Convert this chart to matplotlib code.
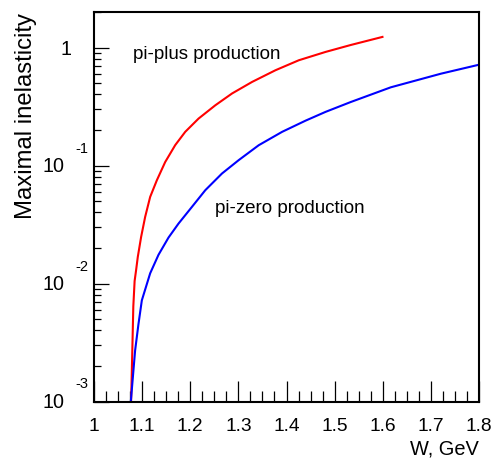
import matplotlib
matplotlib.use('Agg')
import matplotlib.pyplot as plt
from matplotlib.ticker import MultipleLocator, LogLocator, NullFormatter, FixedFormatter
import numpy as np

plt.rcParams['font.family'] = ['Liberation Sans', 'DejaVu Sans']

# pi-plus production (red)
w_plus = [1.0771, 1.0796, 1.0817, 1.0844, 1.0875, 1.0910, 1.0979, 1.1063, 1.1167,
          1.1306, 1.1479, 1.1688, 1.1896, 1.2173, 1.2521, 1.2869, 1.3285, 1.3771,
          1.4256, 1.4813, 1.5333, 1.5994]
inel_plus = [0.001, 0.0027, 0.0064, 0.0105, 0.0130, 0.0168, 0.0248, 0.0367, 0.0542,
             0.075, 0.107, 0.149, 0.193, 0.250, 0.324, 0.408, 0.511, 0.642,
             0.780, 0.918, 1.05, 1.23]

# pi-zero production (blue)
w_zero = [1.0765, 1.0854, 1.0923, 1.0994, 1.1167, 1.1340, 1.1548, 1.1756, 1.2035,
          1.2313, 1.2660, 1.3006, 1.3423, 1.3910, 1.4396, 1.4813, 1.5333, 1.6167,
          1.7208, 1.80]
inel_zero = [0.001, 0.0027, 0.0045, 0.0072, 0.0122, 0.0175, 0.0245, 0.0322, 0.0446,
             0.0618, 0.0856, 0.111, 0.1486, 0.193, 0.240, 0.285, 0.345, 0.46,
             0.60, 0.715]

xticks = [1.0, 1.1, 1.2, 1.3, 1.4, 1.5, 1.6, 1.7, 1.8]
xtick_labels = ['1', '1.1', '1.2', '1.3', '1.4', '1.5', '1.6', '1.7', '1.8']
ydecades = [1e-3, 1e-2, 1e-1, 1]
ydecade_exp = ['-3', '-2', '-1', '']

fig = plt.figure(figsize=(4.95, 4.59), dpi=100)
ax = fig.add_axes([94 / 495, 1 - 401.5 / 459, 385 / 495, 389.5 / 459])

ax.plot(w_plus, inel_plus, color='#ff0000', lw=1.5)
ax.plot(w_zero, inel_zero, color='#0000ff', lw=1.5)

ax.set_yscale('log')
ax.set_xlim(1.0, 1.8)
ax.set_ylim(1e-3, 2.0)

for s in ax.spines.values():
    s.set_linewidth(1.5)

ax.set_xticks(xticks)
ax.xaxis.set_minor_locator(MultipleLocator(0.025))
ax.xaxis.set_major_formatter(FixedFormatter(xtick_labels))
ax.tick_params(axis='x', which='major', direction='in', length=15, width=0.9,
               labelsize=13.8, pad=12, top=False)
ax.tick_params(axis='x', which='minor', direction='in', length=8, width=0.9, top=False)

ax.yaxis.set_major_locator(LogLocator(base=10, numticks=10))
ax.yaxis.set_minor_locator(LogLocator(base=10, subs=np.arange(2, 10), numticks=20))
ax.yaxis.set_major_formatter(NullFormatter())
ax.yaxis.set_minor_formatter(NullFormatter())
ax.tick_params(axis='y', which='major', direction='in', length=11, width=0.9, right=False)
ax.tick_params(axis='y', which='minor', direction='in', length=5, width=0.9, right=False)

# ROOT style decade labels: "10" with exponent above right
for val, ex in zip(ydecades, ydecade_exp):
    if ex == '':
        ax.annotate('1', xy=(0, val), xycoords=('axes fraction', 'data'),
                    xytext=(-22, -1.5), textcoords='offset pixels',
                    ha='right', va='center', fontsize=14.2)
    else:
        ax.annotate('10', xy=(0, val), xycoords=('axes fraction', 'data'),
                    xytext=(-29, -0.5), textcoords='offset pixels',
                    ha='right', va='center', fontsize=14.2)
        ax.annotate(ex, xy=(0, val), xycoords=('axes fraction', 'data'),
                    xytext=(-19, 17), textcoords='offset pixels',
                    ha='left', va='center', fontsize=10.5)

ax.set_xlabel('W, GeV', fontsize=14.4, loc='right')
ax.xaxis.set_label_coords(1.0, -0.098)
ax.set_ylabel('Maximal inelasticity', fontsize=17.2, loc='top')
ax.yaxis.set_label_coords(-0.148, 0.997)

ax.text(1.081, 0.796, 'pi-plus production', fontsize=13.5, ha='left', va='baseline')
ax.text(1.252, 0.0397, 'pi-zero production', fontsize=13.5, ha='left', va='baseline')

fig.savefig('out.png', dpi=100)
